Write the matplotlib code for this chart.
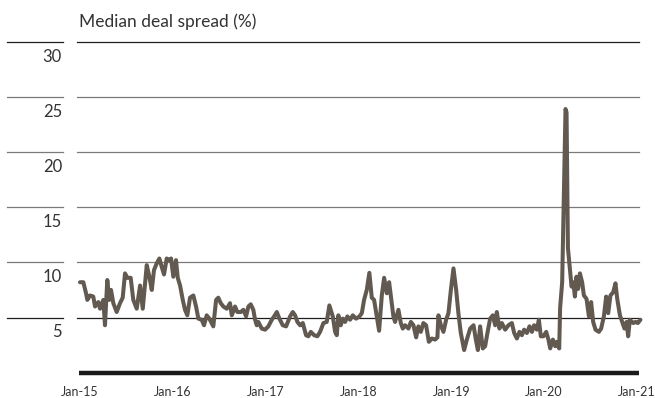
import numpy as np
import matplotlib
matplotlib.use('Agg')
import matplotlib.pyplot as plt
from matplotlib.transforms import blended_transform_factory

plt.rcParams['font.family'] = ['Lato', 'DejaVu Sans']

# Dados: tempo em anos desde jan/2015 e spread mediano (%)
anos = [0.000, 0.036, 0.065, 0.079, 0.108, 0.143, 0.162, 0.197, 0.216, 0.251,
        0.269, 0.294, 0.316, 0.334, 0.359, 0.395, 0.431, 0.460, 0.485, 0.510,
        0.546, 0.574, 0.611, 0.647, 0.676, 0.719, 0.747, 0.773, 0.797, 0.826,
        0.855, 0.880, 0.905, 0.934, 0.962, 0.981, 1.005, 1.034, 1.053, 1.078,
        1.107, 1.131, 1.156, 1.185, 1.221, 1.250, 1.275, 1.311, 1.336, 1.365,
        1.393, 1.436, 1.466, 1.490, 1.516, 1.544, 1.581, 1.616, 1.635, 1.670,
        1.695, 1.732, 1.760, 1.789, 1.814, 1.839, 1.867, 1.886, 1.904, 1.921,
        1.958, 1.994, 2.029, 2.066, 2.091, 2.120, 2.148, 2.184, 2.220, 2.263,
        2.292, 2.317, 2.342, 2.371, 2.400, 2.435, 2.460, 2.486, 2.522, 2.557,
        2.586, 2.622, 2.658, 2.686, 2.723, 2.748, 2.766, 2.783, 2.809, 2.831,
        2.856, 2.880, 2.909, 2.939, 2.974, 3.010, 3.036, 3.060, 3.089, 3.117,
        3.143, 3.168, 3.197, 3.222, 3.251, 3.276, 3.305, 3.330, 3.351, 3.376,
        3.394, 3.430, 3.456, 3.477, 3.502, 3.538, 3.564, 3.592, 3.621, 3.645,
        3.671, 3.699, 3.728, 3.758, 3.790, 3.825, 3.850, 3.861, 3.887, 3.915,
        3.944, 3.969, 3.995, 4.023, 4.052, 4.076, 4.102, 4.138, 4.167, 4.203,
        4.239, 4.264, 4.286, 4.310, 4.339, 4.364, 4.389, 4.418, 4.447, 4.472,
        4.490, 4.518, 4.544, 4.580, 4.615, 4.652, 4.677, 4.706, 4.734, 4.760,
        4.784, 4.814, 4.842, 4.868, 4.892, 4.921, 4.943, 4.964, 4.992, 5.022,
        5.046, 5.065, 5.094, 5.119, 5.137, 5.162, 5.172, 5.194, 5.212, 5.230,
        5.241, 5.256, 5.277, 5.295, 5.313, 5.331, 5.348, 5.366, 5.385, 5.409,
        5.428, 5.456, 5.482, 5.506, 5.528, 5.553, 5.589, 5.614, 5.643, 5.668,
        5.690, 5.714, 5.744, 5.768, 5.787, 5.816, 5.841, 5.865, 5.887, 5.905,
        5.923, 5.959, 5.984, 6.009, 6.037]
spread = [8.2, 8.2, 7.2, 6.6, 7.0, 6.9, 6.0, 6.4, 5.8, 6.6,
          4.3, 8.4, 6.6, 7.5, 6.3, 5.5, 6.3, 6.8, 9.0, 8.6,
          8.6, 6.6, 5.8, 7.9, 5.8, 9.75, 8.7, 7.5, 9.3, 9.9,
          10.35, 9.6, 8.9, 10.35, 10.2, 10.35, 8.7, 10.2, 8.6, 7.9,
          6.6, 5.7, 5.2, 6.8, 7.0, 6.0, 4.9, 4.8, 4.3, 5.2,
          4.9, 4.2, 6.6, 6.8, 6.3, 6.0, 5.8, 6.3, 5.2, 6.0,
          5.5, 5.5, 5.7, 5.1, 6.0, 6.2, 5.7, 4.8, 4.3, 4.6,
          4.0, 3.9, 4.2, 4.8, 5.1, 5.5, 4.9, 4.3, 4.2, 5.1,
          5.5, 5.2, 4.6, 4.3, 4.5, 3.4, 3.3, 3.7, 3.4, 3.3,
          3.7, 4.5, 4.6, 6.1, 5.1, 3.7, 3.4, 5.2, 4.3, 4.9,
          4.6, 5.1, 4.8, 5.2, 4.9, 5.1, 5.4, 6.6, 7.5, 9.05,
          6.8, 6.6, 5.1, 3.8, 7.0, 8.6, 7.2, 8.2, 6.8, 5.1,
          4.6, 5.7, 4.5, 4.0, 4.3, 4.0, 4.6, 4.3, 3.2, 4.2,
          3.7, 4.5, 4.3, 2.8, 3.1, 3.0, 3.2, 5.2, 4.3, 3.7,
          4.8, 5.4, 7.5, 9.45, 7.5, 5.4, 3.6, 2.05, 3.0, 4.0,
          4.3, 3.0, 2.05, 4.2, 2.2, 2.4, 3.6, 4.9, 5.2, 4.3,
          5.5, 4.0, 4.5, 3.9, 4.3, 4.5, 3.6, 3.1, 3.7, 3.4,
          3.9, 3.6, 4.2, 3.7, 4.3, 3.9, 4.8, 3.3, 3.3, 3.7,
          3.0, 2.2, 3.0, 2.4, 2.8, 2.2, 5.9, 8.2, 16.0, 23.9,
          23.6, 11.3, 9.45, 7.8, 8.2, 6.9, 8.7, 7.6, 9.0, 8.2,
          7.0, 6.7, 5.1, 6.4, 4.6, 3.9, 3.7, 4.0, 5.1, 6.9,
          5.4, 7.0, 7.3, 8.1, 6.7, 5.2, 4.6, 4.0, 4.6, 3.3,
          4.8, 4.5, 4.6, 4.5, 4.8]

niveis = [5, 10, 15, 20, 25, 30]
rotulos_x = ['Jan-15', 'Jan-16', 'Jan-17', 'Jan-18', 'Jan-19', 'Jan-20', 'Jan-21']

W, H = 655, 398
fig = plt.figure(figsize=(W / 100, H / 100), dpi=100)
# eixo: x de 80 px (jan-15) a 637 px (jan-21); y de 372.7 px (0) a 41.7 px (30)
ax = fig.add_axes([80 / W, (H - 372.7) / H, 557 / W, 331 / H])
ax.set_xlim(0, 6)
ax.set_ylim(0, 30)
ax.axis('off')

trans = blended_transform_factory(fig.transFigure, ax.transData)
for n in niveis:
    cor = '#1e1e1e' if n in (5, 30) else '#7a7a7a'
    ax.plot([77 / W, 639 / W], [n, n], transform=trans, color=cor, lw=0.9, clip_on=False, zorder=1)
    ax.plot([7 / W, 63 / W], [n, n], transform=trans, color=cor, lw=0.9, clip_on=False, zorder=1)
    ax.text(62 / W, n - 1.35, str(n), transform=trans, ha='right', va='center',
            fontsize=12, color='#333333')

# linha base grossa
ax.plot([79 / W, 639 / W], [0, 0], transform=trans, color='#1a1a1a', lw=3.2,
        solid_capstyle='butt', clip_on=False, zorder=2)

ax.plot(anos, spread, color='#625951', lw=2.9, clip_on=False, zorder=3,
        solid_joinstyle='round', solid_capstyle='round')

for i, r in enumerate(rotulos_x):
    ax.text(i, -1.75, r, ha='center', va='center', fontsize=9, color='#333333', clip_on=False)

fig.text(79 / W, 1 - 22 / H, 'Median deal spread (%)', ha='left', va='center',
         fontsize=12.5, color='#333333')

fig.savefig('out.png', dpi=100)
